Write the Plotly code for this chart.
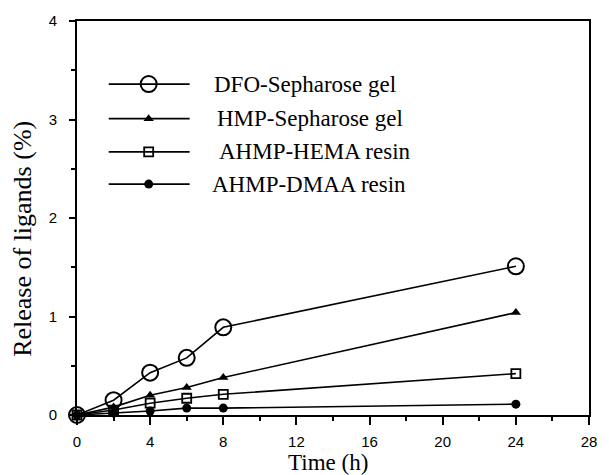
import plotly.graph_objects as go

time_h = [0, 2, 4, 6, 8, 24]
dfo_sepharose = [0.0, 0.15, 0.43, 0.58, 0.89, 1.51]
hmp_sepharose = [0.0, 0.08, 0.20, 0.28, 0.38, 1.04]
ahmp_hema = [0.0, 0.05, 0.12, 0.17, 0.21, 0.42]
ahmp_dmaa = [0.0, 0.02, 0.04, 0.07, 0.07, 0.11]

series_names = ["DFO-Sepharose gel", "HMP-Sepharose gel", "AHMP-HEMA resin", "AHMP-DMAA resin"]
series_values = [dfo_sepharose, hmp_sepharose, ahmp_hema, ahmp_dmaa]
marker_styles = [
    dict(symbol="circle-open", size=16, line=dict(width=2, color="black"), color="black"),
    dict(symbol="triangle-up", size=9, color="black"),
    dict(symbol="square-open", size=9, line=dict(width=1.8, color="black"), color="black"),
    dict(symbol="circle", size=9, color="black"),
]
x_ticks = [0, 4, 8, 12, 16, 20, 24, 28]
y_ticks = [0, 1, 2, 3, 4]

SERIF = "Liberation Serif, Times New Roman, serif"

fig = go.Figure()
for name, vals, mk in zip(series_names, series_values, marker_styles):
    fig.add_trace(go.Scatter(x=time_h, y=vals, mode="lines+markers", name=name,
                             line=dict(color="black", width=1.6), marker=mk,
                             showlegend=False, cliponaxis=False))

# custom legend drawn on an overlay axis spanning the plot area
leg_y = [0.840, 0.752, 0.668, 0.586]
leg_text_x = [0.263, 0.269, 0.273, 0.259]
for name, mk, yy, tx in zip(series_names, marker_styles, leg_y, leg_text_x):
    fig.add_trace(go.Scatter(x=[0.062, 0.14, 0.22], y=[yy, yy, yy], mode="lines",
                             line=dict(color="black", width=1.8), xaxis="x2", yaxis="y2",
                             showlegend=False, hoverinfo="skip"))
    fig.add_trace(go.Scatter(x=[0.14], y=[yy], mode="markers", marker=mk,
                             xaxis="x2", yaxis="y2", showlegend=False, hoverinfo="skip"))
    fig.add_annotation(x=tx, y=yy, xref="paper", yref="paper", text=name, showarrow=False,
                       xanchor="left", yanchor="middle",
                       font=dict(family=SERIF, size=23, color="black"))

axis_common = dict(showgrid=False, zeroline=False, showline=True, linecolor="black",
                   linewidth=1.8, mirror=True, ticks="outside", tickcolor="black",
                   tickwidth=1.5,
                   tickfont=dict(family="Liberation Sans, Arial, sans-serif", size=15, color="black"))

fig.update_layout(
    width=609, height=475,
    margin=dict(l=77, r=14, t=16, b=60),
    paper_bgcolor="white", plot_bgcolor="white",
    font=dict(family=SERIF, color="black"),
    xaxis=dict(range=[0, 28], tickvals=x_ticks, ticklen=8, ticklabelstandoff=4,
               minor=dict(dtick=2, tick0=0, ticklen=4, ticks="outside", tickcolor="black", tickwidth=1.5),
               **axis_common),
    yaxis=dict(range=[0, 4], tickvals=y_ticks, ticklen=6, ticklabelstandoff=9,
               minor=dict(dtick=0.5, tick0=0, ticklen=4, ticks="outside", tickcolor="black", tickwidth=1.5),
               **axis_common),
    xaxis2=dict(range=[0, 1], overlaying="x", visible=False, fixedrange=True),
    yaxis2=dict(range=[0, 1], overlaying="y", visible=False, fixedrange=True),
)

fig.add_annotation(xref="paper", yref="paper", x=(331 - 77) / 518, y=(415 - 463) / 399,
                   text="Time (h)", showarrow=False, xanchor="center", yanchor="middle",
                   font=dict(family=SERIF, size=23, color="black"))
fig.add_annotation(xref="paper", yref="paper", x=(22 - 77) / 518, y=(415 - 237) / 399,
                   text="Release of ligands (%)", showarrow=False, textangle=-90,
                   xanchor="center", yanchor="middle",
                   font=dict(family=SERIF, size=26, color="black"))

fig.write_html("out.html", config={"displayModeBar": False},
               post_script="document.body.style.margin='0';document.body.style.overflow='hidden';")
